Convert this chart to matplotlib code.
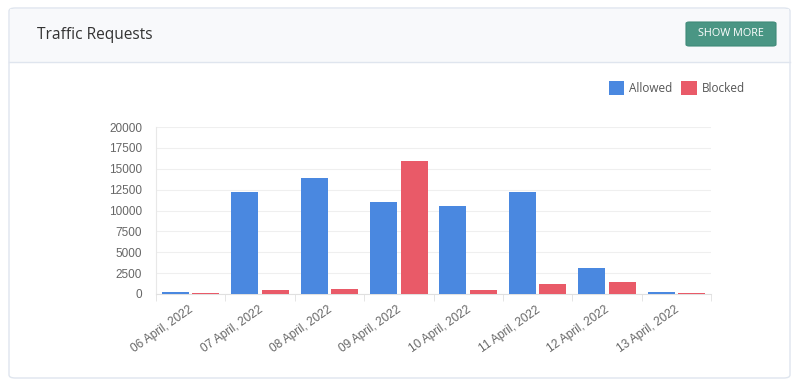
from matplotlib import pyplot as plt
from matplotlib.patches import FancyBboxPatch, Rectangle
from matplotlib.lines import Line2D
import matplotlib.transforms as mtransforms
import numpy as np

plt.rcParams['font.family'] = ['Liberation Sans', 'DejaVu Sans']

# data
dates = ["06 April, 2022", "07 April, 2022", "08 April, 2022", "09 April, 2022",
         "10 April, 2022", "11 April, 2022", "12 April, 2022", "13 April, 2022"]
allowed = [200, 12200, 13920, 11000, 10570, 12240, 3110, 180]
blocked = [160, 440, 560, 15920, 440, 1190, 1440, 140]
y_ticks = [0, 2500, 5000, 7500, 10000, 12500, 15000, 17500, 20000]

blue = '#4a88e0'
red = '#e95a68'

W, H = 800, 386
fig = plt.figure(figsize=(W / 100, H / 100), dpi=100)
fig.patch.set_facecolor('white')

def fx(px):
    return px / W

def fy(py):
    return 1 - py / H

# card + header
card = FancyBboxPatch((fx(9), fy(378)), fx(781), (370) / H,
                      boxstyle="round,pad=0,rounding_size=0.008",
                      transform=fig.transFigure, facecolor='white',
                      edgecolor='#dfe5ee', linewidth=1.0, zorder=-2)
fig.patches.append(card)
header = Rectangle((fx(10), fy(62)), fx(779), 53 / H, transform=fig.transFigure,
                   facecolor='#f8f9fb', edgecolor='none', zorder=-1)
fig.patches.append(header)
fig.lines.append(Line2D([fx(9), fx(790)], [fy(62), fy(62)], transform=fig.transFigure,
                        color='#dfe5ee', linewidth=1.0, zorder=1))
fig.text(fx(37), fy(35), "Traffic Requests", fontsize=11.2, color='#333333',
         family=['Open Sans', 'DejaVu Sans'], va='center', ha='left')

btn = FancyBboxPatch((fx(686), fy(46)), fx(90), 24 / H,
                     boxstyle="round,pad=0,rounding_size=0.004",
                     transform=fig.transFigure, facecolor='#4a9684',
                     edgecolor='#3f8a78', linewidth=0.8, zorder=2)
fig.patches.append(btn)
fig.text(fx(731), fy(34), "SHOW MORE", fontsize=7.8, color='white',
         family=['Open Sans', 'DejaVu Sans'], va='center', ha='center', zorder=3)

# chart
ax = fig.add_axes([fx(156), fy(294), fx(711 - 156), (294 - 127) / H])
ax.set_zorder(5)
ax.set_facecolor('none')
x = np.arange(len(dates))
bw = 0.39
off = 0.22
ax.bar(x - off, allowed, bw, color=blue, edgecolor='none', label='Allowed', zorder=3)
ax.bar(x + off, blocked, bw, color=red, edgecolor='none', label='Blocked', zorder=3)

ax.set_xlim(-0.5, len(dates) - 0.5)
ax.set_ylim(0, 20000)
ax.set_yticks(y_ticks)
ax.set_yticklabels([str(v) for v in y_ticks])
ax.yaxis.grid(True, color='#efefef', linewidth=0.8, zorder=0)
ax.set_axisbelow(True)
for sp in ['top', 'right']:
    ax.spines[sp].set_visible(False)
ax.spines['left'].set_color('#e8e8e8')
ax.spines['bottom'].set_color('#e0e0e0')
ax.tick_params(axis='y', length=0, pad=10, labelsize=8.5, labelcolor='#666666')
ax.set_xticks(x)
ax.set_xticklabels(dates, rotation=35, ha='right', rotation_mode='anchor')
ax.tick_params(axis='x', length=0, pad=7, labelsize=8.6, labelcolor='#666666')
shift = mtransforms.ScaledTranslation(-2 / 100, 0, fig.dpi_scale_trans)
for lbl in ax.get_xticklabels():
    lbl.set_transform(lbl.get_transform() + shift)
# small boundary ticks below the axis
ax.set_xticks(np.arange(len(dates) + 1) - 0.5, minor=True)
ax.tick_params(axis='x', which='minor', length=5, color='#e0e0e0')

leg = fig.legend(handles=ax.get_legend_handles_labels()[0],
                 labels=['Allowed', 'Blocked'], loc='center left',
                 bbox_to_anchor=(fx(598), fy(88)), ncol=2, frameon=False,
                 handlelength=1.3, handleheight=1.4, handletextpad=0.4,
                 columnspacing=0.8, prop={'family': ['Open Sans', 'DejaVu Sans'], 'size': 8.5})
for t in leg.get_texts():
    t.set_color('#555555')

fig.savefig('out.png', dpi=100)
